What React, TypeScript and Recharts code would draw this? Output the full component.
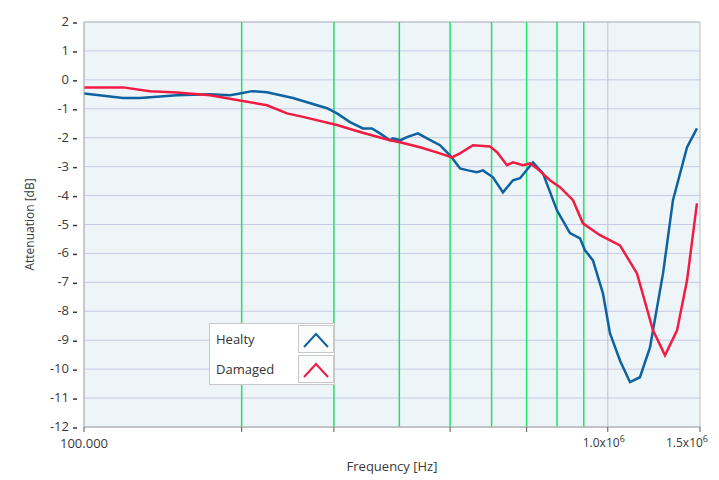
import React from 'react'
import {
  CartesianGrid,
  Line,
  LineChart,
  ReferenceArea,
  ReferenceLine,
  XAxis,
  YAxis,
} from 'recharts'

const healtyFreq = [
  100000, 118700, 127900, 150500, 174000, 190000, 198500, 209300, 223500, 250600, 291000, 304100,
  322000, 340900, 354600, 367300, 383800, 388900, 401200, 413700, 434100, 451700, 478200, 499700,
  522200, 540900, 562700, 577700, 603700, 630800, 659200, 679900, 719800, 752100, 799800, 846900,
  885000, 904700, 936900, 979000, 1009700, 1055100, 1102600, 1152000, 1204000, 1275000, 1332000,
  1417000, 1480000,
]
const healtyDb = [
  -0.47, -0.63, -0.63, -0.53, -0.5, -0.53, -0.47, -0.39, -0.43, -0.63, -0.98, -1.16,
  -1.46, -1.68, -1.68, -1.85, -2.09, -2.02, -2.09, -1.98, -1.85, -2.02, -2.26, -2.61,
  -3.06, -3.13, -3.19, -3.13, -3.37, -3.89, -3.47, -3.4, -2.85, -3.23, -4.51, -5.3,
  -5.48, -5.89, -6.24, -7.38, -8.76, -9.7, -10.45, -10.28, -9.25, -6.69, -4.16,
  -2.33, -1.68,
]

const damagedFreq = [
  100000, 118700, 133600, 150500, 174000, 198500, 223500, 244100, 261900, 304100, 336500, 383800,
  401200, 438000, 478200, 504100, 522200, 552900, 595800, 614500, 642100, 659200, 688900, 710400,
  732600, 775500, 810400, 858200, 896700, 966300, 1055100, 1137000, 1220000, 1286000, 1356000,
  1417000, 1480000,
]
const damagedDb = [
  -0.26, -0.26, -0.39, -0.44, -0.53, -0.71, -0.88, -1.16, -1.28, -1.56, -1.8, -2.09,
  -2.16, -2.33, -2.54, -2.68, -2.54, -2.26, -2.3, -2.5, -2.95, -2.85, -2.95, -2.89,
  -3.06, -3.47, -3.71, -4.16, -4.96, -5.37, -5.72, -6.69, -8.66, -9.52, -8.66,
  -6.93, -4.27,
]

const xTicks = [100000, 200000, 300000, 400000, 500000, 600000, 700000, 800000, 900000, 1000000, 1500000]
const greenLines = [200000, 300000, 400000, 500000, 600000, 700000, 800000, 900000]
const yTicks = [2, 1, 0, -1, -2, -3, -4, -5, -6, -7, -8, -9, -10, -11, -12]
const seriesNames = ['Healty', 'Damaged']

const healtyData = healtyFreq.map((f, i) => ({ f, v: healtyDb[i] }))
const damagedData = damagedFreq.map((f, i) => ({ f, v: damagedDb[i] }))

const FONT = '"Open Sans", "DejaVu Sans", sans-serif'
const TEXT = '#383838'
const BLUE = '#0f62a0'
const RED = '#f21c43'

function YTick(props: any) {
  const { x, y, payload } = props
  return (
    <g>
      <text x={x - 15} y={y} dy={4} textAnchor="end" fontSize={13} fill={TEXT} fontFamily={FONT}>
        {String(payload.value)}
      </text>
      <line x1={x - 11} x2={x - 7} y1={y + 1} y2={y + 1} stroke={TEXT} strokeWidth={1.5} />
    </g>
  )
}

function XTick(props: any) {
  const { x, y, payload } = props
  const v = payload.value
  if (v === 100000) {
    return (
      <text x={x} y={y} dy={13} textAnchor="middle" fontSize={13} fill={TEXT} fontFamily={FONT}>
        100.000
      </text>
    )
  }
  if (v === 1000000 || v === 1500000) {
    return (
      <text x={x - 4} y={y} dy={12} textAnchor="middle" fontSize={12} fill={TEXT} fontFamily={FONT}>
        {v === 1000000 ? '1.0x10' : '1.5x10'}
        <tspan dy={-5} fontSize={9}>6</tspan>
      </text>
    )
  }
  return null
}

function Caret({ color }: { color: string }) {
  return (
    <svg width={36} height={28} style={{ display: 'block' }}>
      <rect x={0.5} y={0.5} width={35} height={27} fill="#fafcfc" stroke="#c8c8c8" />
      <polyline points="6,22 18,9 30,22" fill="none" stroke={color} strokeWidth={2} />
    </svg>
  )
}

function LegendBox() {
  const row = { display: 'flex', alignItems: 'center', justifyContent: 'space-between', height: 30 }
  const colors = [BLUE, RED]
  return (
    <div
      style={{
        position: 'absolute',
        left: 209,
        top: 323,
        width: 126,
        border: '1px solid #c8c8c8',
        background: '#ffffff',
        fontFamily: FONT,
        fontSize: 13,
        color: '#333',
        paddingLeft: 6,
        boxSizing: 'border-box',
      }}
    >
      {seriesNames.map((n, i) => (
        <div key={n} style={row}>
          <span>{n}</span>
          <Caret color={colors[i]} />
        </div>
      ))}
    </div>
  )
}

export default function App() {
  return (
    <div style={{ position: 'absolute', left: 0, top: 0, width: 719, height: 480, background: '#fff' }}>
      <LineChart width={719} height={480} margin={{ top: 22, right: 19, bottom: 23, left: 0 }}>
        <CartesianGrid
          horizontal={true}
          vertical={false}
          stroke="#c9c9e6"
          strokeWidth={1}
          fill="#eef5f8"
          fillOpacity={1}
        />
        <XAxis
          dataKey="f"
          type="number"
          scale="log"
          domain={[100000, 1500000]}
          ticks={xTicks}
          allowDataOverflow
          height={30}
          tick={<XTick />}
          tickSize={5}
          tickMargin={3}
          tickLine={{ stroke: '#555' }}
          axisLine={{ stroke: '#b8b8b8' }}
          label={{ value: 'Frequency [Hz]', position: 'insideBottom', offset: -14, fill: TEXT, fontSize: 13, fontFamily: FONT }}
        />
        <YAxis
          dataKey="v"
          type="number"
          domain={[-12, 2]}
          ticks={yTicks}
          width={84}
          tick={<YTick />}
          tickSize={0}
          tickMargin={0}
          tickLine={false}
          axisLine={{ stroke: '#b8b8b8' }}
          label={{ value: 'Attenuation [dB]', angle: -90, position: 'insideLeft', offset: 30, fill: TEXT, fontSize: 12, fontFamily: FONT, style: { textAnchor: 'middle' } }}
        />
        {greenLines.map((g) => (
          <ReferenceLine key={g} x={g} stroke="#1ee26a" strokeWidth={1.5} />
        ))}
        <ReferenceLine x={1000000} stroke="#c4c4dc" strokeWidth={1.2} />
        <ReferenceArea x1={100000} x2={1500000} y1={-12} y2={2} fill="none" stroke="#bdbdbd" />
        <Line
          data={healtyData}
          dataKey="v"
          name={seriesNames[0]}
          type="linear"
          stroke={BLUE}
          strokeWidth={2.5}
          dot={false}
          isAnimationActive={false}
        />
        <Line
          data={damagedData}
          dataKey="v"
          name={seriesNames[1]}
          type="linear"
          stroke={RED}
          strokeWidth={2.5}
          dot={false}
          isAnimationActive={false}
        />
      </LineChart>
      <LegendBox />
    </div>
  )
}
